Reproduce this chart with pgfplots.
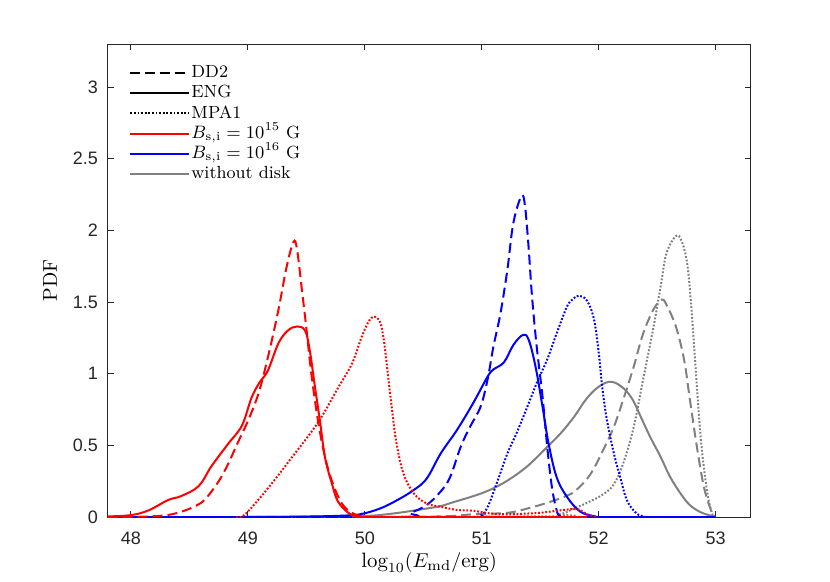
\documentclass[border=0pt]{standalone}
\usepackage{fontspec}
\usepackage{pgfplots}
\pgfplotsset{compat=1.18}
\newfontfamily\ticfont{Liberation Sans}
\definecolor{axgray}{rgb}{0.15,0.15,0.15}
\definecolor{mgray}{rgb}{0.5,0.5,0.5}
\tikzset{
  dashedm/.style={dash pattern=on 5pt off 2.5pt},
  dottedm/.style={dash pattern=on 0.9pt off 0.9pt},
}
\begin{document}
\begin{tikzpicture}
\begin{axis}[
  scale only axis,
  width=321.5pt, height=236.5pt,
  xmin=47.8, xmax=53.3, ymin=0, ymax=3.3,
  xtick={48,49,50,51,52,53},
  ytick={0,0.5,1,1.5,2,2.5,3},
  scaled ticks=false,
  tick align=inside,
  major tick length=3pt,
  axis line style={axgray, line width=0.5pt},
  every tick/.style={axgray, line width=0.5pt},
  /pgf/number format/assume math mode=true,
  ticklabel style={font=\ticfont\fontsize{9}{10}\selectfont, text=axgray},
  xticklabel style={yshift=-4pt},
  yticklabel style={xshift=-1.25pt},
  xlabel={$\log_{10}(E_{\mathrm{md}}/\mathrm{erg})$},
  ylabel={PDF},
  xlabel style={at={(axis description cs:0.5,0)}, anchor=north, inner sep=0pt, yshift=-17.5pt, font=\fontsize{10.4}{12}\selectfont},
  ylabel style={at={(axis description cs:-0.0894,0.5)}, anchor=center, rotate=0, inner sep=0pt, font=\fontsize{10}{12}\selectfont},
  legend style={draw=none, fill=none, at={(axis description cs:0.0334,0.961)}, anchor=north west,
    inner sep=0pt, row sep=0pt, font=\fontsize{8.8}{10}\selectfont,
    nodes={inner sep=0.5pt, text height=6.9pt, text depth=2.2pt}},
  legend cell align=left,
  legend image code/.code={\draw[#1] (0pt,0pt) -- (29.5pt,0pt);},
  every axis plot/.append style={line width=1pt},
]
\addlegendimage{black, dashedm}
\addlegendentry{DD2}
\addlegendimage{black}
\addlegendentry{ENG}
\addlegendimage{black, dottedm}
\addlegendentry{MPA1}
\addlegendimage{red}
\addlegendentry{$B_{\mathrm{s,i}}=10^{15}$ G}
\addlegendimage{blue}
\addlegendentry{$B_{\mathrm{s,i}}=10^{16}$ G}
\addlegendimage{mgray}
\addlegendentry{without disk}

% gray (without disk)
\addplot[mgray, smooth, tension=0.6, forget plot] coordinates {
(48.0,0) (49.0,0.001) (49.5,0.003) (50.0,0.008) (50.25,0.026) (50.53,0.06) (50.65,0.077)
(50.76,0.105) (50.93,0.147) (51.07,0.19) (51.22,0.255) (51.39,0.355) (51.56,0.49)
(51.67,0.58) (51.79,0.70) (51.90,0.83) (52.01,0.915) (52.11,0.944) (52.21,0.90)
(52.29,0.82) (52.36,0.70) (52.44,0.56) (52.53,0.42) (52.61,0.282) (52.70,0.165)
(52.78,0.084) (52.87,0.035) (52.96,0.01) (53.0,0)};
\addplot[mgray, dashedm, smooth, tension=0.6, forget plot] coordinates {
(48.0,0) (50.0,0.002) (50.65,0.005) (50.93,0.02) (51.22,0.03) (51.39,0.06) (51.56,0.1)
(51.73,0.15) (51.81,0.19) (51.93,0.30) (52.04,0.47) (52.13,0.63) (52.21,0.82)
(52.30,1.05) (52.38,1.28) (52.47,1.45) (52.54,1.518) (52.58,1.48) (52.66,1.33)
(52.73,1.10) (52.78,0.82) (52.84,0.49) (52.90,0.21) (52.96,0.05) (52.99,0.005) (53.0,0)};
\addplot[mgray, dottedm, smooth, tension=0.6, forget plot] coordinates {
(48.0,0) (51.5,0.005) (51.67,0.02) (51.79,0.06) (51.90,0.1) (52.04,0.16) (52.13,0.23)
(52.21,0.375) (52.30,0.63) (52.38,0.96) (52.47,1.33) (52.53,1.61) (52.58,1.84)
(52.66,1.96) (52.71,1.925) (52.76,1.75) (52.80,1.38) (52.84,0.91) (52.88,0.49)
(52.93,0.165) (52.97,0.025) (52.99,0) (53.0,0)};

% blue (B = 1e16)
\addplot[blue, smooth, tension=0.6, forget plot] coordinates {
(48.0,0) (49.0,0.001) (49.5,0.004) (49.8,0.01) (49.96,0.02) (50.13,0.06) (50.28,0.12)
(50.42,0.19) (50.53,0.27) (50.65,0.445) (50.79,0.61) (50.93,0.80) (51.05,0.98)
(51.10,1.03) (51.19,1.08) (51.27,1.20) (51.35,1.27) (51.40,1.24) (51.46,1.05)
(51.52,0.77) (51.57,0.52) (51.64,0.28) (51.73,0.14) (51.84,0.04) (51.96,0.007)
(52.1,0) (53.0,0)};
\addplot[blue, dashedm, smooth, tension=0.6, forget plot] coordinates {
(48.0,0) (50.25,0) (50.39,0.03) (50.53,0.085) (50.65,0.18) (50.73,0.28) (50.82,0.49)
(50.90,0.63) (50.99,0.77) (51.05,0.96) (51.10,1.19) (51.16,1.42) (51.22,1.73)
(51.27,2.05) (51.34,2.24) (51.37,2.17) (51.40,1.89) (51.43,1.54) (51.47,1.19)
(51.52,0.84) (51.56,0.49) (51.60,0.21) (51.64,0.05) (51.67,0.007) (51.75,0) (53.0,0)};
\addplot[blue, dottedm, smooth, tension=0.6, forget plot] coordinates {
(48.0,0) (50.9,0) (50.99,0.01) (51.05,0.07) (51.13,0.24) (51.22,0.445) (51.30,0.59)
(51.39,0.77) (51.47,0.935) (51.56,1.10) (51.64,1.28) (51.73,1.47) (51.78,1.52)
(51.83,1.545) (51.90,1.51) (51.96,1.38) (52.0,1.15) (52.03,0.91) (52.07,0.68)
(52.13,0.445) (52.19,0.26) (52.24,0.12) (52.31,0.037) (52.37,0.007) (52.45,0) (53.0,0)};

% red (B = 1e15)
\addplot[red, smooth, tension=0.6, forget plot] coordinates {
(47.8,0.005) (48.0,0.014) (48.15,0.047) (48.32,0.12) (48.43,0.147) (48.58,0.217)
(48.69,0.357) (48.83,0.51) (48.95,0.64) (49.03,0.83) (49.10,0.94) (49.17,1.02)
(49.26,1.21) (49.34,1.30) (49.42,1.33) (49.49,1.30) (49.53,1.16) (49.57,0.93)
(49.62,0.65) (49.66,0.415) (49.72,0.23) (49.77,0.11) (49.86,0.03) (49.94,0.005)
(50.1,0) (51.9,0)};
\addplot[red, dashedm, smooth, tension=0.6, forget plot] coordinates {
(47.8,0) (48.06,0.002) (48.35,0.02) (48.58,0.09) (48.69,0.18) (48.80,0.32) (48.92,0.53)
(49.0,0.67) (49.09,0.86) (49.17,1.11) (49.26,1.44) (49.33,1.74) (49.39,1.92)
(49.42,1.87) (49.46,1.60) (49.50,1.32) (49.54,1.02) (49.60,0.67) (49.66,0.42)
(49.72,0.25) (49.80,0.10) (49.89,0.03) (50.0,0.005) (50.2,0) (51.9,0)};
\addplot[red, dottedm, smooth, tension=0.6, forget plot] coordinates {
(48.9,0) (48.95,0.002) (49.03,0.065) (49.20,0.23) (49.37,0.41) (49.60,0.66) (49.77,0.90)
(49.89,1.07) (49.97,1.25) (50.03,1.36) (50.08,1.40) (50.13,1.36) (50.16,1.25)
(50.19,1.05) (50.23,0.77) (50.27,0.52) (50.33,0.305) (50.42,0.165) (50.53,0.095)
(50.65,0.072) (50.79,0.05) (50.93,0.044) (51.07,0.026) (51.22,0.02) (51.39,0.025)
(51.50,0.03) (51.70,0.05) (51.82,0.055) (51.90,0.02) (51.99,0)};
\end{axis}
\path (current axis.south west) ++(-53.75pt,-32pt) coordinate (bbsw);
\path (current axis.north east) ++(39.65pt,22pt) coordinate (bbne);
\path[use as bounding box] (bbsw) rectangle (bbne);
\end{tikzpicture}
\end{document}
